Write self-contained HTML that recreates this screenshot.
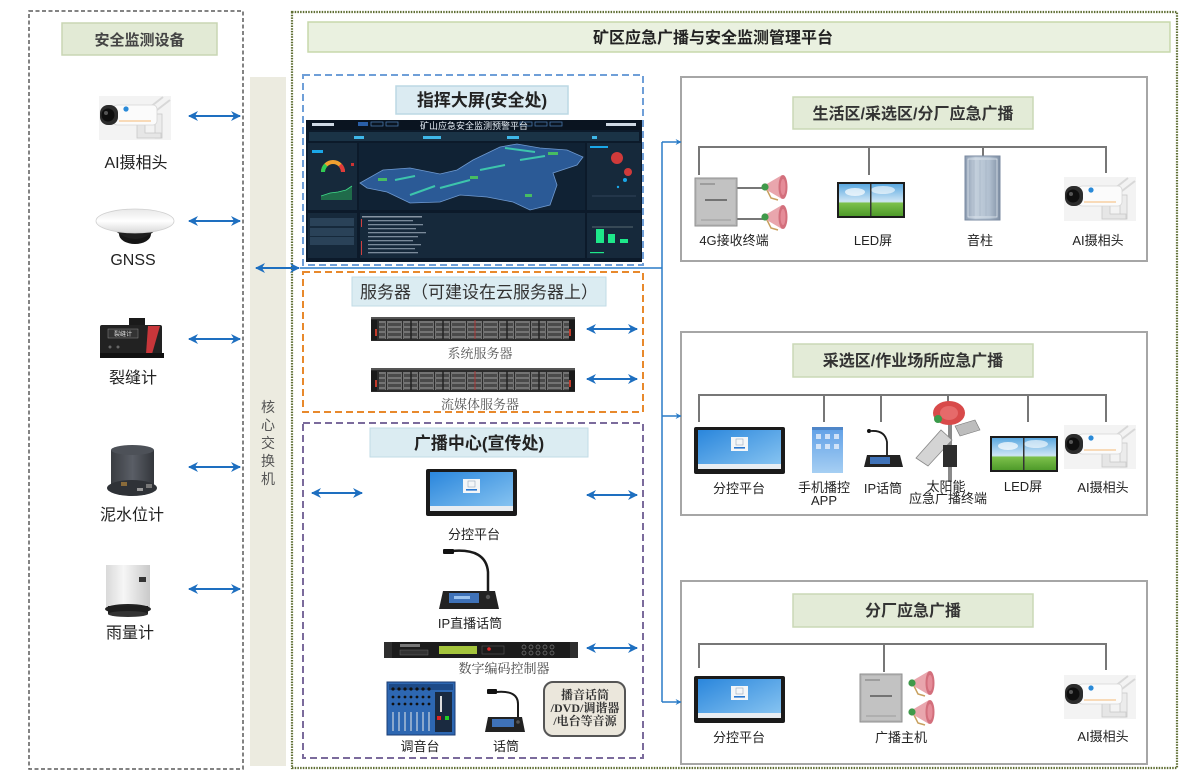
<!DOCTYPE html>
<html><head><meta charset="utf-8">
<style>
html,body{margin:0;padding:0;background:#fff;}
svg{display:block;}
text{font-family:"Liberation Sans","Noto Sans CJK SC",sans-serif;}
.sf{font-family:"Liberation Serif","Noto Serif CJK SC",serif;}
</style></head>
<body>
<svg width="1196" height="773" viewBox="0 0 1196 773" xmlns="http://www.w3.org/2000/svg">
<defs>
  <marker id="ah" viewBox="0 0 10 10" refX="9" refY="5" markerWidth="5.5" markerHeight="5" orient="auto-start-reverse">
    <path d="M0,0 L10,5 L0,10 L3,5 z" fill="#1e6fc0"/>
  </marker>
  <marker id="sa" viewBox="0 0 10 10" refX="9" refY="5" markerWidth="4" markerHeight="4" orient="auto">
    <path d="M0,0 L10,5 L0,10 L3,5 z" fill="#2a7cc7"/>
  </marker>
  <linearGradient id="scr" x1="0" y1="0" x2="1" y2="1">
    <stop offset="0" stop-color="#2a86dc"/><stop offset="1" stop-color="#8cc7f2"/>
  </linearGradient>
  <linearGradient id="sky" x1="0" y1="0" x2="0" y2="1">
    <stop offset="0" stop-color="#5aa8e0"/><stop offset="0.55" stop-color="#cfe6f5"/><stop offset="0.6" stop-color="#7cc04a"/><stop offset="1" stop-color="#4e9a2a"/>
  </linearGradient>
  <linearGradient id="dome" x1="0" y1="0" x2="0" y2="1">
    <stop offset="0" stop-color="#e8e8e8"/><stop offset="0.5" stop-color="#ffffff"/><stop offset="1" stop-color="#d8d8d8"/>
  </linearGradient>
  <linearGradient id="cyl" x1="0" y1="0" x2="1" y2="0">
    <stop offset="0" stop-color="#3a3d42"/><stop offset="0.5" stop-color="#5a5e66"/><stop offset="1" stop-color="#33363b"/>
  </linearGradient>
  <linearGradient id="rain" x1="0" y1="0" x2="1" y2="0">
    <stop offset="0" stop-color="#d9d9d9"/><stop offset="0.4" stop-color="#f6f6f6"/><stop offset="1" stop-color="#c9c9c9"/>
  </linearGradient>
  <linearGradient id="col" x1="0" y1="0" x2="1" y2="0">
    <stop offset="0" stop-color="#8b9bb0"/><stop offset="0.3" stop-color="#c3cfdc"/><stop offset="0.7" stop-color="#b0bfcf"/><stop offset="1" stop-color="#7e8ea3"/>
  </linearGradient>
  <linearGradient id="phone" x1="0" y1="0" x2="0" y2="1">
    <stop offset="0" stop-color="#5f9fe6"/><stop offset="1" stop-color="#a6cff3"/>
  </linearGradient>
  <pattern id="bay" width="16" height="5" patternUnits="userSpaceOnUse">
    <rect x="0.5" y="0.5" width="14" height="4" fill="#4a4a4a" stroke="#9a9a9a" stroke-width="0.6"/>
  </pattern>

  <g id="cam">
    <rect x="0" y="0" width="72" height="44" fill="#f3f3f3"/>
    <line x1="50" y1="12" x2="64" y2="1" stroke="#d8d8d8" stroke-width="2"/>
    <line x1="58" y1="14" x2="71" y2="4" stroke="#d8d8d8" stroke-width="2"/>
    <rect x="56" y="18" width="7" height="24" fill="#ececec" stroke="#c8c8c8" stroke-width="0.8"/>
    <path d="M38,28 L46,28 L46,37 L62,37 L62,42 L38,42 z" fill="#e6e6e6" stroke="#c8c8c8" stroke-width="0.8"/>
    <rect x="14" y="9" width="44" height="20" rx="4" fill="#fbfbfb" stroke="#d6d6d6" stroke-width="0.8"/>
    <rect x="1" y="9" width="18" height="20" rx="8" fill="#2c2c2c"/>
    <circle cx="9" cy="19" r="6.5" fill="#0f0f0f"/>
    <circle cx="7" cy="17" r="2" fill="#555"/>
    <circle cx="27" cy="13" r="2.6" fill="#2a8ad8"/>
    <line x1="20" y1="25" x2="52" y2="25" stroke="#f2a54a" stroke-width="0.8"/>
  </g>

  <g id="term">
    <rect x="0" y="0" width="91" height="47" rx="2" fill="#1a1a1a"/>
    <rect x="4" y="3" width="83" height="39" fill="url(#scr)"/>
    <rect x="37" y="10" width="17" height="14" fill="#f4f6f8"/>
    <rect x="40" y="20" width="11" height="1.6" fill="#2a78d0"/>
    <rect x="42" y="12" width="7" height="6" fill="none" stroke="#9ab" stroke-width="0.6"/>
    <rect x="4" y="37" width="83" height="5" fill="#e8edf2"/>
  </g>

  <g id="horn">
    <path d="M5,15 L10,25 L17,27" stroke="#c8a05e" stroke-width="1.5" fill="none"/>
    <path d="M4,12 L21,2 Q29,14 21,26 L4,16 Z" fill="#e9a6ad"/>
    <ellipse cx="22" cy="14" rx="4.5" ry="12" fill="#d36f7c"/>
    <ellipse cx="22" cy="14" rx="2.5" ry="8" fill="#e58c98"/>
    <circle cx="4" cy="14" r="3.6" fill="#3f9a4a"/>
  </g>

  <g id="led">
    <rect x="0" y="0" width="68" height="36" fill="#1c1c1c"/>
    <rect x="2" y="2" width="64" height="32" fill="url(#sky)"/>
    <ellipse cx="18" cy="10" rx="10" ry="4" fill="#ffffff" opacity="0.7"/>
    <ellipse cx="46" cy="8" rx="12" ry="4" fill="#ffffff" opacity="0.6"/>
    <rect x="33" y="2" width="1.5" height="32" fill="#333"/>
  </g>

  <g id="box4g">
    <rect x="0" y="0" width="42" height="48" fill="#b7b7b7" stroke="#8f8f8f" stroke-width="1"/>
    <rect x="2" y="2" width="38" height="44" fill="#c2c2c2"/>
    <line x1="5" y1="6" x2="20" y2="6" stroke="#666" stroke-width="0.8"/>
    <line x1="10" y1="22" x2="32" y2="22" stroke="#444" stroke-width="1.2"/>
    <line x1="6" y1="42" x2="36" y2="42" stroke="#777" stroke-width="0.6"/>
  </g>

  <g id="mic">
    <path d="M0,20 L4,2 L56,2 L60,20 Z" fill="#222"/>
    <rect x="10" y="4" width="30" height="10" fill="#3f72b8"/>
    <rect x="15" y="7" width="16" height="3" fill="#9cc3ee"/>
    <circle cx="49" cy="8" r="2.2" fill="#555"/>
  </g>

  <g id="server">
    <rect x="0" y="0" width="204" height="24" fill="#2c2c2c"/>
    <rect x="0" y="0" width="204" height="2" fill="#555"/>
    <rect x="8" y="4" width="190" height="18" fill="url(#bay)"/>
    <rect x="0" y="3" width="6" height="20" fill="#1a1a1a"/>
    <rect x="198" y="3" width="6" height="20" fill="#1a1a1a"/>
    <rect x="4" y="12" width="2" height="7" fill="#c23a2a"/>
    <rect x="198" y="12" width="2" height="7" fill="#c23a2a"/>
    <line x1="40" y1="3" x2="40" y2="22" stroke="#222" stroke-width="1.5"/>
    <line x1="72" y1="3" x2="72" y2="22" stroke="#222" stroke-width="1.5"/>
    <line x1="104" y1="3" x2="104" y2="22" stroke="#a33" stroke-width="1"/>
    <line x1="136" y1="3" x2="136" y2="22" stroke="#222" stroke-width="1.5"/>
    <line x1="168" y1="3" x2="168" y2="22" stroke="#222" stroke-width="1.5"/>
  </g>
</defs>

<!-- ===== Left monitoring column ===== -->
<rect x="29" y="11" width="214" height="758" fill="none" stroke="#5a5a5a" stroke-width="1.5" stroke-dasharray="4 2.5"/>
<rect x="62" y="23" width="155" height="32" fill="#e2ead5" stroke="#c9d6b4" stroke-width="1.5"/>
<text x="139.5" y="45" font-size="15" font-weight="bold" fill="#444" text-anchor="middle">安全监测设备</text>

<use href="#cam" x="99" y="96"/>
<text x="136" y="168" font-size="16" fill="#222" text-anchor="middle">AI摄相头</text>
<g>
  <ellipse cx="135" cy="234" rx="16" ry="10" fill="#151515"/>
  <path d="M112,228 Q135,250 158,228 Z" fill="#1e1e1e"/>
  <ellipse cx="135" cy="221" rx="39" ry="12" fill="url(#dome)" stroke="#cfcfcf" stroke-width="0.8"/>
</g>
<text x="133" y="265" font-size="16" fill="#222" text-anchor="middle">GNSS</text>
<g>
  <rect x="129" y="318" width="16" height="9" fill="#1a1a1a"/>
  <rect x="100" y="325" width="62" height="30" rx="2" fill="#222"/>
  <path d="M148,326 L160,326 L152,354 L146,354 Z" fill="#c8363a"/>
  <rect x="108" y="329" width="30" height="9" fill="#333" stroke="#888" stroke-width="0.5"/>
  <text x="123" y="336" font-size="6" fill="#ddd" text-anchor="middle">裂缝计</text>
  <rect x="100" y="353" width="64" height="5" fill="#111"/>
  <circle cx="110" cy="347" r="1.5" fill="#666"/><circle cx="118" cy="347" r="1.5" fill="#666"/>
</g>
<text x="133" y="383" font-size="16" fill="#222" text-anchor="middle">裂缝计</text>
<g>
  <rect x="111" y="450" width="43" height="36" fill="url(#cyl)"/>
  <ellipse cx="132.5" cy="450" rx="21.5" ry="5" fill="#4d5158"/>
  <ellipse cx="132" cy="488" rx="25" ry="8" fill="#2f3237"/>
  <rect x="121" y="482" width="6" height="4" fill="#8a6b3a"/>
  <rect x="137" y="488" width="6" height="3" fill="#999"/>
  <rect x="146" y="484" width="6" height="4" fill="#777"/>
</g>
<text x="132" y="520" font-size="16" fill="#222" text-anchor="middle">泥水位计</text>
<g>
  <rect x="106" y="565" width="44" height="42" fill="url(#rain)"/>
  <rect x="139" y="577" width="7" height="5" fill="#333"/>
  <ellipse cx="128" cy="609" rx="23" ry="5" fill="#222"/>
  <rect x="108" y="606" width="40" height="8" fill="#1e1e1e"/>
  <ellipse cx="128" cy="614" rx="20" ry="3" fill="#333"/>
</g>
<text x="130" y="638" font-size="16" fill="#222" text-anchor="middle">雨量计</text>

<g stroke="#1e6fc0" stroke-width="2" marker-start="url(#ah)" marker-end="url(#ah)">
  <line x1="189" y1="116" x2="240" y2="116"/>
  <line x1="189" y1="221" x2="240" y2="221"/>
  <line x1="189" y1="339" x2="240" y2="339"/>
  <line x1="189" y1="467" x2="240" y2="467"/>
  <line x1="189" y1="589" x2="240" y2="589"/>
</g>

<!-- ===== Core switch ===== -->
<rect x="250" y="77" width="36" height="689" fill="#ecebe0"/>
<g font-size="14" fill="#555" text-anchor="middle">
  <text x="268" y="412">核</text>
  <text x="268" y="430">心</text>
  <text x="268" y="448">交</text>
  <text x="268" y="466">换</text>
  <text x="268" y="484">机</text>
</g>

<!-- ===== Main platform box ===== -->
<rect x="292" y="12" width="885" height="756" fill="none" stroke="#5f6e33" stroke-width="2.2" stroke-dasharray="1.5 1.2"/>
<rect x="308" y="22" width="862" height="30" fill="#eaf1e0" stroke="#c7d8ab" stroke-width="1.5"/>
<text x="593" y="43" font-size="16" font-weight="bold" fill="#222">矿区应急广播与安全监测管理平台</text>

<line x1="300" y1="268" x2="662" y2="268" stroke="#2a7cc7" stroke-width="1.5"/>
<line x1="256" y1="268" x2="299" y2="268" stroke="#1e6fc0" stroke-width="2" marker-start="url(#ah)" marker-end="url(#ah)"/>
<line x1="662" y1="142" x2="662" y2="702" stroke="#2a7cc7" stroke-width="1.5"/>

<!-- ===== Dashboard section ===== -->
<rect x="303" y="75" width="340" height="190" fill="none" stroke="#6f9fd8" stroke-width="2" stroke-dasharray="7 4"/>
<rect x="396" y="86" width="172" height="28" fill="#dbebf2" stroke="#bcd8e4" stroke-width="1.5"/>
<text x="482" y="106" font-size="17" font-weight="bold" fill="#222" text-anchor="middle">指挥大屏(安全处)</text>

<g>
  <rect x="306" y="120" width="336" height="142" fill="#0c1a2a"/>
  <rect x="306" y="120" width="336" height="10" fill="#0a1420"/>
  <rect x="312" y="123" width="22" height="3" fill="#cfd8e2"/>
  <rect x="358" y="122" width="10" height="4" fill="#2a5fa8"/>
  <rect x="371" y="122" width="12" height="4" fill="none" stroke="#4d7fb8" stroke-width="0.7"/>
  <rect x="386" y="122" width="12" height="4" fill="none" stroke="#4d7fb8" stroke-width="0.7"/>
  <rect x="520" y="122" width="12" height="4" fill="none" stroke="#4d7fb8" stroke-width="0.7"/>
  <rect x="535" y="122" width="12" height="4" fill="none" stroke="#4d7fb8" stroke-width="0.7"/>
  <rect x="550" y="122" width="12" height="4" fill="none" stroke="#4d7fb8" stroke-width="0.7"/>
  <rect x="606" y="123" width="30" height="3" fill="#cfd8e2"/>
  <text x="474" y="129" font-size="9" fill="#e6eef6" text-anchor="middle">矿山应急安全监测预警平台</text>
  <rect x="309" y="132" width="330" height="9" fill="#1a3346"/>
  <rect x="354" y="136" width="10" height="3" fill="#3fb7e8"/>
  <rect x="423" y="136" width="18" height="3" fill="#3fb7e8"/>
  <rect x="507" y="136" width="12" height="3" fill="#3fb7e8"/>
  <rect x="592" y="136" width="5" height="3" fill="#3fb7e8"/>
  <rect x="308" y="143" width="49" height="67" fill="#16293b"/>
  <rect x="359" y="143" width="226" height="67" fill="#102234"/>
  <rect x="587" y="143" width="54" height="67" fill="#16293b"/>
  <rect x="308" y="213" width="49" height="45" fill="#16293b"/>
  <rect x="360" y="213" width="225" height="45" fill="#16293b"/>
  <rect x="587" y="213" width="54" height="45" fill="#16293b"/>
  <rect x="312" y="150" width="11" height="3" fill="#1aa7e8"/>
  <path d="M323,172 A10,10 0 0 1 343,172" fill="none" stroke="#f0a030" stroke-width="4"/>
  <path d="M323,172 A10,10 0 0 1 326,165" fill="none" stroke="#2ecc55" stroke-width="4"/>
  <path d="M340,165 A10,10 0 0 1 343,172" fill="none" stroke="#e03a3a" stroke-width="4"/>
  <rect x="351" y="163" width="3" height="3" fill="#c33"/>
  <path d="M321,196 L330,193 L338,192 L346,190 L352,186 L352,200 L321,200 Z" fill="#1f6b4a"/>
  <polyline points="321,196 330,193 338,192 346,190 352,186" fill="none" stroke="#3fdc8a" stroke-width="0.8"/>
  <path d="M360,183 L383,170 L410,168 L440,174 L457,170 L473,160 L500,147 L517,144 L540,148 L567,150 L583,157 L577,165 L553,173 L557,185 L550,205 L530,210 L513,202 L487,197 L460,195 L440,202 L410,203 L387,192 L367,188 Z" fill="#2b5a96" stroke="#6f9ad0" stroke-width="0.8"/>
  <g stroke="#41d8b0" stroke-width="2" opacity="0.85">
    <line x1="505" y1="148" x2="535" y2="152"/>
    <line x1="520" y1="160" x2="545" y2="156"/>
    <line x1="440" y1="188" x2="470" y2="180"/>
    <line x1="410" y1="195" x2="435" y2="186"/>
    <line x1="480" y1="170" x2="505" y2="165"/>
    <line x1="395" y1="180" x2="415" y2="176"/>
  </g>
  <g fill="#4ccf5a" opacity="0.85">
    <rect x="548" y="152" width="10" height="3"/>
    <rect x="470" y="176" width="8" height="3"/>
    <rect x="525" y="194" width="7" height="3"/>
    <rect x="378" y="178" width="9" height="3"/>
  </g>
  <rect x="590" y="146" width="18" height="2" fill="#1aa7e8"/>
  <circle cx="617" cy="158" r="6" fill="#d03a3a"/>
  <circle cx="628" cy="172" r="4" fill="#d03a3a"/>
  <circle cx="625" cy="180" r="2" fill="#1aa7e8"/>
  <circle cx="618" cy="187" r="1.2" fill="#1aa7e8"/>
  <line x1="592" y1="196" x2="636" y2="196" stroke="#4a6078" stroke-width="0.6"/>
  <g fill="#2a4258">
    <rect x="310" y="218" width="44" height="8"/>
    <rect x="310" y="228" width="44" height="8"/>
    <rect x="310" y="237" width="44" height="8"/>
  </g>
  <g fill="#8895a3"><rect x="362" y="216" width="60" height="1.5"/></g>
  <g fill="#7a8a9a">
    <rect x="368" y="220" width="45" height="1.3"/><rect x="368" y="224" width="55" height="1.3"/>
    <rect x="368" y="228" width="48" height="1.3"/><rect x="368" y="232" width="58" height="1.3"/>
    <rect x="368" y="236" width="50" height="1.3"/><rect x="368" y="240" width="45" height="1.3"/>
    <rect x="368" y="244" width="53" height="1.3"/><rect x="368" y="248" width="47" height="1.3"/>
    <rect x="368" y="252" width="50" height="1.3"/>
  </g>
  <g fill="#d04040">
    <rect x="361" y="219" width="1" height="8"/><rect x="361" y="241" width="1" height="14"/>
  </g>
  <line x1="592" y1="227" x2="633" y2="227" stroke="#9aa" stroke-width="0.6"/>
  <rect x="596" y="229" width="8" height="14" fill="#1ee88a"/>
  <rect x="608" y="234" width="7" height="9" fill="#1ee88a"/>
  <rect x="620" y="239" width="8" height="4" fill="#1ee88a"/>
  <rect x="590" y="252" width="14" height="1.2" fill="#1ee88a"/>
</g>

<!-- ===== Server section ===== -->
<rect x="303" y="272" width="340" height="140" fill="none" stroke="#e8892c" stroke-width="2" stroke-dasharray="7 4"/>
<rect x="352" y="277" width="254" height="29" fill="#dbecf2" stroke="#c1dbe6" stroke-width="1"/>
<text x="479" y="298" font-size="17" fill="#333" text-anchor="middle">服务器（可建设在云服务器上）</text>
<use href="#server" x="371" y="317"/>
<text class="sf" x="480" y="358" font-size="13" fill="#555" text-anchor="middle">系统服务器</text>
<use href="#server" x="371" y="368"/>
<text class="sf" x="480" y="409" font-size="13" fill="#555" text-anchor="middle">流媒体服务器</text>

<!-- ===== Broadcast center ===== -->
<rect x="303" y="423" width="340" height="335" fill="none" stroke="#7b6b9c" stroke-width="2" stroke-dasharray="7 4"/>
<rect x="370" y="428" width="218" height="29" fill="#dbecf2" stroke="#c1dbe6" stroke-width="1"/>
<text x="479" y="449" font-size="17" font-weight="bold" fill="#222" text-anchor="middle">广播中心(宣传处)</text>
<use href="#term" x="426" y="469"/>
<text x="474" y="539" font-size="13" fill="#222" text-anchor="middle">分控平台</text>
<path d="M452,551 Q486,548 488,572 L488,591" fill="none" stroke="#1a1a1a" stroke-width="2.5"/>
<rect x="443" y="549" width="11" height="5" rx="1" fill="#111"/>
<use href="#mic" x="439" y="589"/>
<text x="470" y="628" font-size="13" fill="#222" text-anchor="middle">IP直播话筒</text>
<g>
  <rect x="384" y="642" width="194" height="16" fill="#1c1c1c"/>
  <rect x="384" y="642" width="8" height="16" fill="#2e2e2e"/>
  <rect x="570" y="642" width="8" height="16" fill="#2e2e2e"/>
  <rect x="439" y="646" width="38" height="8" fill="#a4c43c"/>
  <rect x="400" y="650" width="28" height="5" fill="#333" stroke="#666" stroke-width="0.5"/>
  <rect x="400" y="644" width="20" height="3" fill="#777"/>
  <rect x="482" y="646" width="22" height="8" fill="none" stroke="#555" stroke-width="0.6"/>
  <circle cx="489" cy="649" r="1.8" fill="#e02a2a"/>
  <g fill="none" stroke="#777" stroke-width="0.7">
    <circle cx="524" cy="647" r="2"/><circle cx="531" cy="647" r="2"/><circle cx="538" cy="647" r="2"/><circle cx="545" cy="647" r="2"/><circle cx="552" cy="647" r="2"/>
    <circle cx="524" cy="653" r="2"/><circle cx="531" cy="653" r="2"/><circle cx="538" cy="653" r="2"/><circle cx="545" cy="653" r="2"/><circle cx="552" cy="653" r="2"/>
  </g>
</g>
<text class="sf" x="504" y="673" font-size="13" fill="#444" text-anchor="middle">数字编码控制器</text>
<g>
  <rect x="387" y="682" width="68" height="53" fill="#2d67b2" stroke="#1b3c74" stroke-width="1"/>
  <rect x="389" y="684" width="64" height="6" fill="#1d4a88"/>
  <g fill="#111">
    <circle cx="393" cy="689" r="1.6"/><circle cx="399" cy="689" r="1.6"/><circle cx="405" cy="689" r="1.6"/><circle cx="411" cy="689" r="1.6"/><circle cx="417" cy="689" r="1.6"/><circle cx="423" cy="689" r="1.6"/><circle cx="429" cy="689" r="1.6"/>
    <circle cx="393" cy="697" r="1.4"/><circle cx="399" cy="697" r="1.4"/><circle cx="405" cy="697" r="1.4"/><circle cx="411" cy="697" r="1.4"/><circle cx="417" cy="697" r="1.4"/><circle cx="423" cy="697" r="1.4"/><circle cx="429" cy="697" r="1.4"/>
    <circle cx="393" cy="704" r="1.4"/><circle cx="399" cy="704" r="1.4"/><circle cx="405" cy="704" r="1.4"/><circle cx="411" cy="704" r="1.4"/><circle cx="417" cy="704" r="1.4"/><circle cx="423" cy="704" r="1.4"/><circle cx="429" cy="704" r="1.4"/>
  </g>
  <g stroke="#e8e8e8" stroke-width="1">
    <line x1="393" y1="712" x2="393" y2="731"/><line x1="399" y1="712" x2="399" y2="731"/><line x1="405" y1="712" x2="405" y2="731"/><line x1="411" y1="712" x2="411" y2="731"/><line x1="417" y1="712" x2="417" y2="731"/><line x1="423" y1="712" x2="423" y2="731"/><line x1="429" y1="712" x2="429" y2="731"/>
  </g>
  <rect x="435" y="692" width="17" height="40" fill="#1a2a40"/>
  <rect x="437" y="716" width="4" height="4" fill="#d22"/>
  <rect x="445" y="716" width="4" height="4" fill="#2c2"/>
  <rect x="440" y="696" width="2" height="16" fill="#ddd"/>
</g>
<text x="420" y="751" font-size="13" fill="#222" text-anchor="middle">调音台</text>
<path d="M496,692 Q518,690 518,704 L518,718" fill="none" stroke="#1a1a1a" stroke-width="2"/>
<rect x="487" y="689" width="10" height="5" rx="1" fill="#111"/>
<path d="M485,732 L488,717 L522,717 L525,732 Z" fill="#222"/>
<rect x="492" y="719" width="22" height="8" fill="#3f72b8"/>
<circle cx="518" cy="722" r="1.8" fill="#555"/>
<text x="506" y="751" font-size="13" fill="#222" text-anchor="middle">话筒</text>
<rect x="544" y="682" width="81" height="54" rx="9" fill="#ebe7dc" stroke="#555" stroke-width="2"/>
<g font-size="12" font-weight="bold" fill="#333" text-anchor="middle">
  <text class="sf" x="585" y="699">播音话筒</text>
  <text class="sf" x="585" y="712">/DVD/调谐器</text>
  <text class="sf" x="585" y="725">/电台等音源</text>
</g>

<g stroke="#1e6fc0" stroke-width="2" marker-start="url(#ah)" marker-end="url(#ah)">
  <line x1="587" y1="329" x2="637" y2="329"/>
  <line x1="587" y1="379" x2="637" y2="379"/>
  <line x1="312" y1="493" x2="362" y2="493"/>
  <line x1="587" y1="495" x2="637" y2="495"/>
  <line x1="587" y1="648" x2="637" y2="648"/>
</g>

<!-- ===== Right panel 1 ===== -->
<rect x="681" y="77" width="466" height="184" fill="#fff" stroke="#a6a6a6" stroke-width="2"/>
<rect x="793" y="97" width="240" height="32" fill="#e3ebd7" stroke="#cad8b6" stroke-width="1.5"/>
<text x="913" y="119" font-size="16" font-weight="bold" fill="#333" text-anchor="middle">生活区/采选区/分厂应急广播</text>
<g stroke="#777" stroke-width="2" fill="none">
  <line x1="698" y1="147" x2="1107" y2="147"/>
  <line x1="699" y1="146" x2="699" y2="175"/>
  <line x1="869" y1="146" x2="869" y2="175"/>
  <line x1="983" y1="146" x2="983" y2="156"/>
  <line x1="1106" y1="146" x2="1106" y2="173"/>
  <line x1="737" y1="188" x2="763" y2="188"/>
  <line x1="737" y1="219" x2="763" y2="219"/>
</g>
<use href="#box4g" x="695" y="178"/>
<use href="#horn" x="761" y="173"/>
<use href="#horn" x="761" y="203"/>
<text x="734" y="245" font-size="13" fill="#222" text-anchor="middle">4G接收终端</text>
<use href="#led" x="837" y="182"/>
<text x="873" y="245" font-size="13" fill="#222" text-anchor="middle">LED屏</text>
<g>
  <rect x="965" y="156" width="35" height="64" fill="url(#col)" stroke="#7a8aa0" stroke-width="1"/>
  <rect x="968" y="159" width="29" height="58" fill="none" stroke="#dfe6ee" stroke-width="0.8"/>
  <g stroke="#a3b2c3" stroke-width="0.6"><line x1="974" y1="160" x2="974" y2="216"/><line x1="980" y1="160" x2="980" y2="216"/><line x1="986" y1="160" x2="986" y2="216"/><line x1="992" y1="160" x2="992" y2="216"/></g>
</g>
<text x="980" y="245" font-size="13" fill="#222" text-anchor="middle">音柱</text>
<use href="#cam" x="1064" y="177"/>
<text x="1098" y="245" font-size="13" fill="#222" text-anchor="middle">AI摄相头</text>

<!-- ===== Right panel 2 ===== -->
<rect x="681" y="332" width="466" height="183" fill="#fff" stroke="#a6a6a6" stroke-width="2"/>
<rect x="793" y="344" width="240" height="33" fill="#e3ebd7" stroke="#cad8b6" stroke-width="1.5"/>
<text x="913" y="366" font-size="16" font-weight="bold" fill="#333" text-anchor="middle">采选区/作业场所应急广播</text>
<g stroke="#777" stroke-width="2" fill="none">
  <line x1="698" y1="395" x2="1107" y2="395"/>
  <line x1="699" y1="394" x2="699" y2="422"/>
  <line x1="824" y1="394" x2="824" y2="422"/>
  <line x1="881" y1="394" x2="881" y2="422"/>
  <line x1="948" y1="394" x2="948" y2="405"/>
  <line x1="1028" y1="394" x2="1028" y2="422"/>
  <line x1="1106" y1="394" x2="1106" y2="422"/>
</g>
<use href="#term" x="694" y="427"/>
<text x="739" y="493" font-size="13" fill="#222" text-anchor="middle">分控平台</text>
<g>
  <rect x="812" y="427" width="31" height="46" fill="url(#phone)"/>
  <rect x="812" y="427" width="31" height="3" fill="#4f86c8"/>
  <g fill="#e8f0fb" opacity="0.8">
    <rect x="816" y="434" width="5" height="5"/><rect x="825" y="434" width="5" height="5"/><rect x="834" y="434" width="5" height="5"/>
    <rect x="816" y="444" width="5" height="5"/><rect x="825" y="444" width="5" height="5"/><rect x="834" y="444" width="5" height="5"/>
  </g>
</g>
<text x="824" y="492" font-size="13" fill="#222" text-anchor="middle">手机播控</text>
<text x="824" y="505" font-size="13" fill="#222" text-anchor="middle">APP</text>
<path d="M871,431 Q885,430 887,442 L887,456" fill="none" stroke="#1a1a1a" stroke-width="1.8"/>
<circle cx="869" cy="431" r="2" fill="#111"/>
<path d="M864,467 L867,455 L900,455 L903,467 Z" fill="#222"/>
<rect x="870" y="457" width="20" height="7" fill="#3f72b8"/>
<text x="883" y="493" font-size="13" fill="#222" text-anchor="middle">IP话筒</text>
<g>
  <line x1="950" y1="420" x2="950" y2="482" stroke="#8a8a8a" stroke-width="4"/>
  <path d="M916,458 L941,430 L952,440 L928,466 Z" fill="#d4d4d4" stroke="#888" stroke-width="0.8"/>
  <rect x="943" y="445" width="14" height="22" fill="#2d2d2d"/>
  <path d="M955,426 L975,420 L980,430 L960,436 Z" fill="#bdbdbd" stroke="#777" stroke-width="0.6"/>
  <ellipse cx="949" cy="413" rx="16" ry="12" fill="#d84a4a"/>
  <ellipse cx="949" cy="413" rx="9" ry="7" fill="#e66a6a"/>
  <circle cx="938" cy="419" r="4" fill="#3a9a4a"/>
</g>
<text x="946" y="491" font-size="13" fill="#222" text-anchor="middle">太阳能</text>
<text x="948" y="503" font-size="13" fill="#222" text-anchor="middle">应急广播终端</text>
<use href="#led" x="990" y="436"/>
<text x="1023" y="491" font-size="13" fill="#222" text-anchor="middle">LED屏</text>
<use href="#cam" x="1064" y="425"/>
<text x="1103" y="492" font-size="13" fill="#222" text-anchor="middle">AI摄相头</text>

<!-- ===== Right panel 3 ===== -->
<rect x="681" y="581" width="466" height="183" fill="#fff" stroke="#a6a6a6" stroke-width="2"/>
<rect x="793" y="594" width="240" height="33" fill="#e3ebd7" stroke="#cad8b6" stroke-width="1.5"/>
<text x="913" y="616" font-size="16" font-weight="bold" fill="#333" text-anchor="middle">分厂应急广播</text>
<g stroke="#777" stroke-width="2" fill="none">
  <line x1="698" y1="644" x2="1107" y2="644"/>
  <line x1="699" y1="643" x2="699" y2="668"/>
  <line x1="884" y1="643" x2="884" y2="672"/>
  <line x1="1106" y1="643" x2="1106" y2="670"/>
</g>
<use href="#term" x="694" y="676"/>
<text x="739" y="742" font-size="13" fill="#222" text-anchor="middle">分控平台</text>
<use href="#box4g" x="860" y="674"/>
<use href="#horn" x="908" y="669"/>
<use href="#horn" x="908" y="698"/>
<text x="901" y="742" font-size="13" fill="#222" text-anchor="middle">广播主机</text>
<use href="#cam" x="1064" y="675"/>
<text x="1103" y="741" font-size="13" fill="#222" text-anchor="middle">AI摄相头</text>

<g stroke="#2a7cc7" stroke-width="1.5" marker-end="url(#sa)">
  <line x1="662" y1="142" x2="681" y2="142"/>
  <line x1="662" y1="416" x2="681" y2="416"/>
  <line x1="662" y1="702" x2="681" y2="702"/>
</g>
</svg>
</body></html>
